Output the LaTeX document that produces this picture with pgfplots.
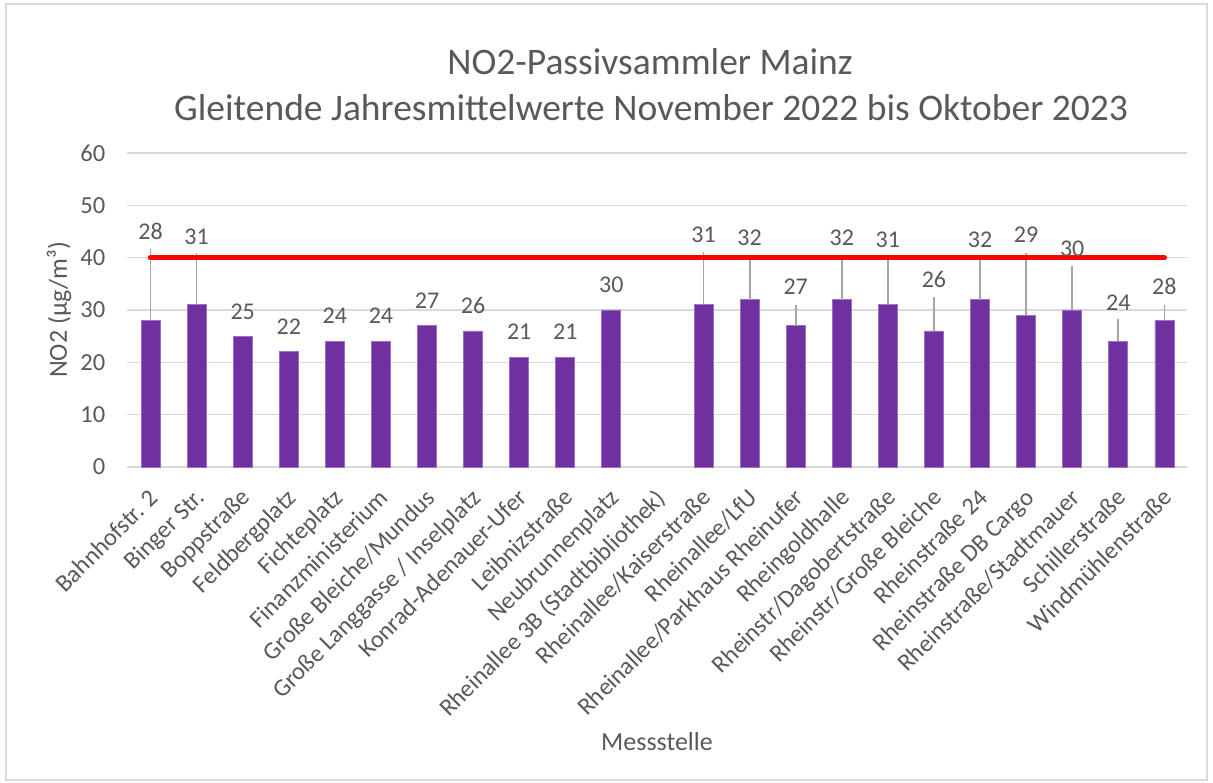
\documentclass[border=0pt]{standalone}
\usepackage{pgfplots}
\pgfplotsset{compat=1.18}
\usepackage{fontspec}
\setmainfont{Carlito}
\definecolor{barc}{HTML}{7030A0}
\definecolor{baredge}{HTML}{9A70C0}
\definecolor{txt}{HTML}{595959}
\definecolor{gridc}{HTML}{D9D9D9}
\definecolor{errc}{HTML}{A6A6A6}
\definecolor{redc}{HTML}{FF0000}
\begin{document}
\begin{tikzpicture}[x=1pt,y=1pt]
\useasboundingbox (0,0) rectangle (1213,783);
\draw[gridc, line width=1.2pt] (6,3) rectangle (1207,779);
\begin{axis}[
  at={(150.5pt,316pt)}, anchor=origin,
  width=1060pt, height=314pt, scale only axis,
  xmin=-0.5, xmax=22.5, ymin=0, ymax=60,
  ytick={0,10,20,30,40,50,60},
  xtick={0,1,...,22},
  xticklabels={Bahnhofstr. 2, Binger Str., Boppstraße, Feldbergplatz, Fichteplatz, Finanzministerium, Große Bleiche/Mundus, Große Langgasse / Inselplatz, Konrad-Adenauer-Ufer, Leibnizstraße, Neubrunnenplatz, Rheinallee 3B (Stadtbibliothek), Rheinallee/Kaiserstraße, Rheinallee/LfU, Rheinallee/Parkhaus Rheinufer, Rheingoldhalle, Rheinstr/Dagobertstraße, Rheinstr/Große Bleiche, Rheinstraße 24, Rheinstraße DB Cargo, Rheinstraße/Stadtmauer, Schillerstraße, Windmühlenstraße},
  ymajorgrids, grid style={gridc, line width=1.3pt},
  axis line style={draw=none},
  tick style={draw=none},
  /pgf/number format/assume math mode=true,
  ticklabel style={font=\fontsize{24.5}{29}\selectfont, text=txt},
  yticklabel style={anchor=east, inner sep=0pt, xshift=-22pt},
  xticklabel style={inner sep=0pt, xshift=-3pt, yshift=-20pt, rotate=45, anchor=north east},
  clip=false,
]
\addplot[ybar, bar width=19pt, fill=barc, draw=baredge, line width=0.8pt,
  error bars/.cd, y dir=plus, y explicit, error mark=none,
  error bar style={errc, line width=1.8pt}]
coordinates {
(0,28) +- (0,13.7)
(1,31) +- (0,9.8)
(2,25) +- (0,0)
(3,22) +- (0,0)
(4,24) +- (0,0)
(5,24) +- (0,0)
(6,27) +- (0,0)
(7,26) +- (0,0)
(8,21) +- (0,0)
(9,21) +- (0,0)
(10,30) +- (0,0)
(12,31) +- (0,10.0)
(13,32) +- (0,8.4)
(14,27) +- (0,4.0)
(15,32) +- (0,8.4)
(16,31) +- (0,9.0)
(17,26) +- (0,6.5)
(18,32) +- (0,7.7)
(19,29) +- (0,11.9)
(20,30) +- (0,8.5)
(21,24) +- (0,4.3)
(22,28) +- (0,3.0)
};
\addplot[redc, line width=5.5pt, line cap=round, mark=none]
coordinates {(0,40)(1,40)(2,40)(3,40)(4,40)(5,40)(6,40)(7,40)(8,40)(9,40)(10,40)(11,40)(12,40)(13,40)(14,40)(15,40)(16,40)(17,40)(18,40)(19,40)(20,40)(21,40)(22,40)};
\addplot[draw=none, mark=none, nodes near coords, point meta=explicit symbolic,
  nodes near coords style={anchor=center, inner sep=0pt, font=\fontsize{24}{28}\selectfont, text=txt}]
coordinates {
(0,45.1) [28]
(1,44.0) [31]
(2,29.7) [25]
(3,26.8) [22]
(4,28.9) [24]
(5,28.9) [24]
(6,31.8) [27]
(7,30.8) [26]
(8,25.9) [21]
(9,25.9) [21]
(10,34.8) [30]
(12,44.4) [31]
(13,43.8) [32]
(14,34.5) [27]
(15,43.8) [32]
(16,43.4) [31]
(17,35.8) [26]
(18,43.4) [32]
(19,44.4) [29]
(20,41.7) [30]
(21,31.4) [24]
(22,34.5) [28]
};
\end{axis}
\node[text=txt, font=\fontsize{37.5}{44}\selectfont] at (650,721) {NO2-Passivsammler Mainz};
\node[text=txt, font=\fontsize{37.5}{44}\selectfont] at (651,675) {Gleitende Jahresmittelwerte November 2022 bis Oktober 2023};
\node[text=txt, font=\fontsize{26}{31}\selectfont] at (657,41) {Messstelle};
\node[text=txt, font=\fontsize{26}{31}\selectfont, rotate=90] at (59,473) {NO2 (µg/m³)};
\end{tikzpicture}
\end{document}
